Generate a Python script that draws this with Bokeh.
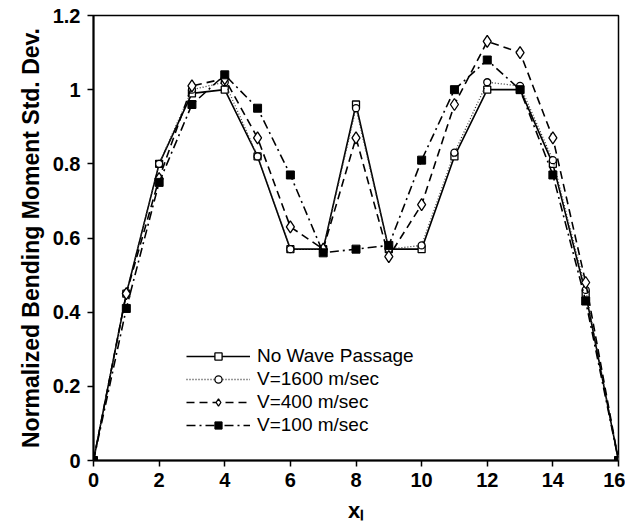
from bokeh.plotting import figure
from bokeh.models import Range1d, FixedTicker, CustomJSTickFormatter, Legend, LegendItem
from bokeh.embed import file_html
from bokeh.resources import INLINE

x_pos = list(range(17))
no_wave = [0, 0.45, 0.80, 0.99, 1.00, 0.82, 0.57, 0.57, 0.96, 0.57, 0.57, 0.82, 1.00, 1.00, 0.80, 0.45, 0]
v1600 = [0, 0.45, 0.80, 1.00, 1.02, 0.82, 0.57, 0.57, 0.95, 0.57, 0.58, 0.83, 1.02, 1.01, 0.81, 0.46, 0]
v400 = [0, 0.45, 0.76, 1.01, 1.03, 0.87, 0.63, 0.57, 0.87, 0.55, 0.69, 0.96, 1.13, 1.10, 0.87, 0.48, 0]
v100 = [0, 0.41, 0.75, 0.96, 1.04, 0.95, 0.77, 0.56, 0.57, 0.58, 0.81, 1.00, 1.08, 1.00, 0.77, 0.43, 0]
series_names = ["No Wave Passage", "V=1600 m/sec", "V=400 m/sec", "V=100 m/sec"]
x_ticks = [0, 2, 4, 6, 8, 10, 12, 14, 16]
y_ticks = [0, 0.2, 0.4, 0.6, 0.8, 1.0, 1.2]

p = figure(width=625, height=528, output_backend="svg", toolbar_location=None,
           x_range=Range1d(0, 16), y_range=Range1d(0, 1.2),
           min_border_left=93, min_border_right=7, min_border_top=15, min_border_bottom=68)
p.grid.visible = False
p.background_fill_color = "white"
p.outline_line_color = "black"
p.outline_line_width = 1.5

FONT = "Liberation Sans"
for ax in (p.xaxis[0], p.yaxis[0]):
    ax.axis_line_width = 2
    ax.axis_line_color = "black"
    ax.major_tick_line_width = 1.5
    ax.major_tick_in = 0
    ax.major_tick_out = 6
    ax.minor_tick_line_color = None
    ax.major_label_text_font = FONT
    ax.major_label_text_font_style = "bold"
    ax.major_label_text_font_size = "20px"
    ax.major_label_text_color = "black"
    ax.axis_label_text_font = FONT
    ax.axis_label_text_font_style = "bold"
    ax.axis_label_text_color = "black"

p.xaxis.ticker = FixedTicker(ticks=x_ticks)
p.yaxis.ticker = FixedTicker(ticks=y_ticks)
p.yaxis.formatter = CustomJSTickFormatter(code="""
if (Math.abs(tick) < 1e-9) return '0';
if (Math.abs(tick - 1) < 1e-9) return '1';
return tick.toFixed(1);
""")
p.xaxis.axis_label = "xₗ"
p.xaxis.axis_label_text_font_size = "22px"
p.xaxis.axis_label_standoff = 8
p.yaxis.axis_label = "Normalized Bending Moment Std. Dev."
p.yaxis.axis_label_text_font_size = "23px"
p.yaxis.axis_label_standoff = 6
p.xaxis.major_label_standoff = 6
p.yaxis.major_label_standoff = 7

items = []
# No wave passage: solid, open squares
l1 = p.line(x_pos, no_wave, line_color="black", line_width=1.6)
m1 = p.scatter(x_pos, no_wave, marker="square", size=7, fill_color="white", line_color="black", line_width=1.3)
items.append(LegendItem(label=series_names[0], renderers=[l1, m1]))
# V=1600: dotted, open circles
l2 = p.line(x_pos, v1600, line_color="#333333", line_width=1.3, line_dash="1 2")
m2 = p.scatter(x_pos, v1600, marker="circle", size=7, fill_color="white", line_color="black", line_width=1.3)
items.append(LegendItem(label=series_names[1], renderers=[l2, m2]))
# V=400: dashed, open diamonds
l3 = p.line(x_pos, v400, line_color="black", line_width=1.6, line_dash="8 5")
m3 = p.scatter(x_pos, v400, marker="diamond", size=12, fill_color="white", line_color="black", line_width=1.3)
items.append(LegendItem(label=series_names[2], renderers=[l3, m3]))
# V=100: dash-dot, filled squares
l4 = p.line(x_pos, v100, line_color="black", line_width=1.6, line_dash="9 4 2 4")
m4 = p.scatter(x_pos, v100, marker="square", size=8, fill_color="black", line_color="black", line_width=1)
items.append(LegendItem(label=series_names[3], renderers=[l4, m4]))

legend = Legend(items=items, location=(93, 24), padding=0, margin=0,
                glyph_width=64, glyph_height=18, label_height=18, spacing=1,
                label_standoff=7, border_line_color=None, background_fill_alpha=0,
                label_text_font=FONT, label_text_font_size="19px", label_text_color="black")
p.add_layout(legend, "center")

open("out.html", "w").write(file_html(p, INLINE))
